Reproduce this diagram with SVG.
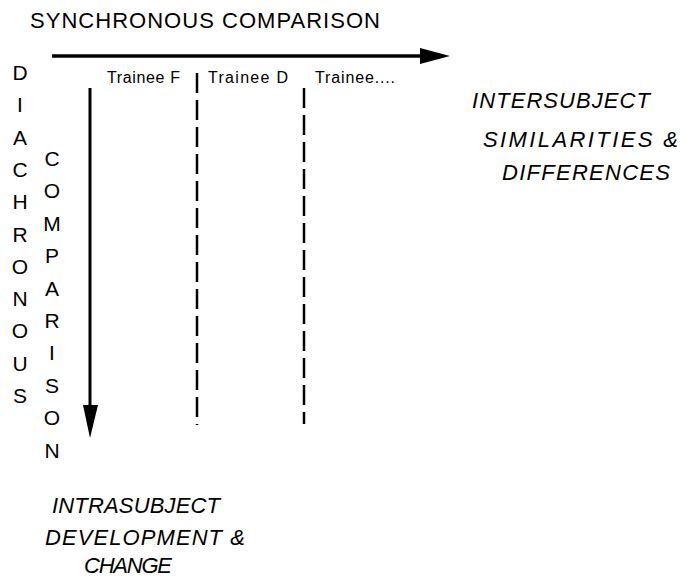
<svg xmlns="http://www.w3.org/2000/svg" width="686" height="580" viewBox="0 0 686 580">
<style>
.t{font-family:"Liberation Sans",Arial,sans-serif;fill:#000}
.title{font-size:22px}
.lbl{font-size:16px}
.col{font-size:21px;text-anchor:middle}
.it{font-size:22px;font-style:italic}
.ln{stroke:#000;fill:none}
.dash{stroke:#000;stroke-width:2.5;stroke-dasharray:20 7;fill:none}
</style>
<rect width="686" height="580" fill="#fff"/>
<g id="title"><text class="t title" x="30" y="28" textLength="350" lengthAdjust="spacing">SYNCHRONOUS COMPARISON</text></g>
<g id="connectors">
<line class="ln" x1="52" y1="56" x2="422" y2="56" stroke-width="3.5"/>
<polygon points="420,48 450,56 420,64" fill="#000"/>
<line class="ln" x1="90" y1="88" x2="90" y2="410" stroke-width="3"/>
<polygon points="83,405 98,405 90,438" fill="#000"/>
<line class="dash" x1="197" y1="73" x2="197" y2="425"/>
<line class="dash" x1="304" y1="88" x2="304" y2="424"/>
</g>
<g id="trainees">
<text class="t lbl" x="107" y="83" textLength="73">Trainee F</text>
<text class="t lbl" x="208" y="83" textLength="80">Trainee D</text>
<text class="t lbl" x="315" y="83" textLength="80">Trainee....</text>
</g>
<g id="diachronous">
<text class="t col" x="20" y="80">D</text>
<text class="t col" x="20" y="112">I</text>
<text class="t col" x="20" y="145">A</text>
<text class="t col" x="20" y="177">C</text>
<text class="t col" x="20" y="209">H</text>
<text class="t col" x="20" y="242">R</text>
<text class="t col" x="20" y="274">O</text>
<text class="t col" x="20" y="306">N</text>
<text class="t col" x="20" y="338">O</text>
<text class="t col" x="20" y="371">U</text>
<text class="t col" x="20" y="403">S</text>
</g>
<g id="comparison">
<text class="t col" x="52" y="166">C</text>
<text class="t col" x="52" y="198">O</text>
<text class="t col" x="52" y="231">M</text>
<text class="t col" x="52" y="263">P</text>
<text class="t col" x="52" y="296">A</text>
<text class="t col" x="52" y="328">R</text>
<text class="t col" x="52" y="360">I</text>
<text class="t col" x="52" y="393">S</text>
<text class="t col" x="52" y="425">O</text>
<text class="t col" x="52" y="458">N</text>
</g>
<g id="intersubject">
<text class="t it" x="472" y="108" textLength="178">INTERSUBJECT</text>
<text class="t it" x="483" y="147" textLength="195">SIMILARITIES &amp;</text>
<text class="t it" x="502" y="180" textLength="168">DIFFERENCES</text>
</g>
<g id="intrasubject">
<text class="t it" x="52" y="513" textLength="168">INTRASUBJECT</text>
<text class="t it" x="45" y="545" textLength="200">DEVELOPMENT &amp;</text>
<text class="t it" x="84" y="573" textLength="88">CHANGE</text>
</g>
</svg>
